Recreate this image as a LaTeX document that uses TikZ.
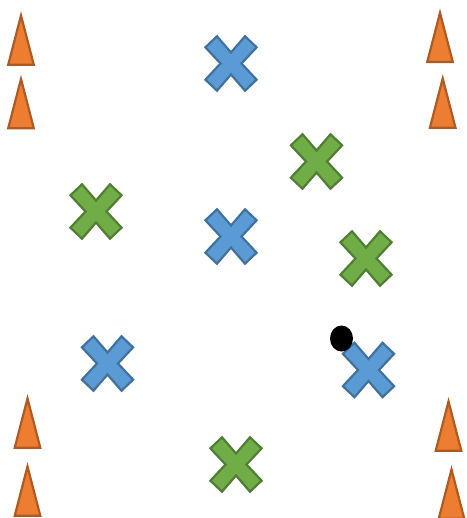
\documentclass[tikz,border=0pt]{standalone}
\definecolor{bluefill}{HTML}{5B9BD5}
\definecolor{blueline}{HTML}{41719C}
\definecolor{greenfill}{HTML}{70AD47}
\definecolor{greenline}{HTML}{507E32}
\definecolor{orangefill}{HTML}{ED7D31}
\definecolor{orangeline}{HTML}{AE5A21}
\tikzset{
  crossmark/.pic={\draw[pic actions] (-25.6,-16.2) -- (-14,-27.2) -- (0,-11) -- (14,-27.2) -- (25.6,-16.2) -- (10.5,0) -- (25.6,16.2) -- (14,27.2) -- (0,11) -- (-14,27.2) -- (-25.6,16.2) -- (-10.5,0) -- cycle;},
  cone/.pic={\draw[pic actions] (-12.8,25.8) -- (0,-23.5) -- (12.8,25.8) -- cycle;},
  bluex/.style={fill=bluefill, draw=blueline, line width=2.2pt},
  greenx/.style={fill=greenfill, draw=greenline, line width=2.2pt},
  conestyle/.style={fill=orangefill, draw=orangeline, line width=2.2pt},
}
\begin{document}
\begin{tikzpicture}[x=1pt,y=-1pt]
\useasboundingbox (0,0) rectangle (466,518);
% cones
\pic[conestyle] (t1) at (21,39) {cone};
\pic[conestyle] (t2) at (21,102.5) {cone};
\pic[conestyle] (t3) at (440,36.3) {cone};
\pic[conestyle] (t4) at (442.7,102) {cone};
\pic[conestyle] (t5) at (27.5,422) {cone};
\pic[conestyle] (t6) at (27.5,490) {cone};
\pic[conestyle] (t7) at (448.5,425) {cone};
\pic[conestyle] (t8) at (451.5,493) {cone};
% blue crosses
\pic[bluex] (b1) at (231,63.5) {crossmark};
\pic[bluex] (b2) at (231,236.5) {crossmark};
\pic[bluex] (b3) at (107.5,363.5) {crossmark};
\pic[bluex] (b4) at (368.5,370) {crossmark};
% green crosses
\pic[greenx] (g1) at (316.5,161.5) {crossmark};
\pic[greenx] (g2) at (96,211.5) {crossmark};
\pic[greenx] (g3) at (366,258.5) {crossmark};
\pic[greenx] (g4) at (236,464.5) {crossmark};
% ball
\fill[black] (341.5,338.5) ellipse [x radius=11.5, y radius=13];
\end{tikzpicture}
\end{document}
